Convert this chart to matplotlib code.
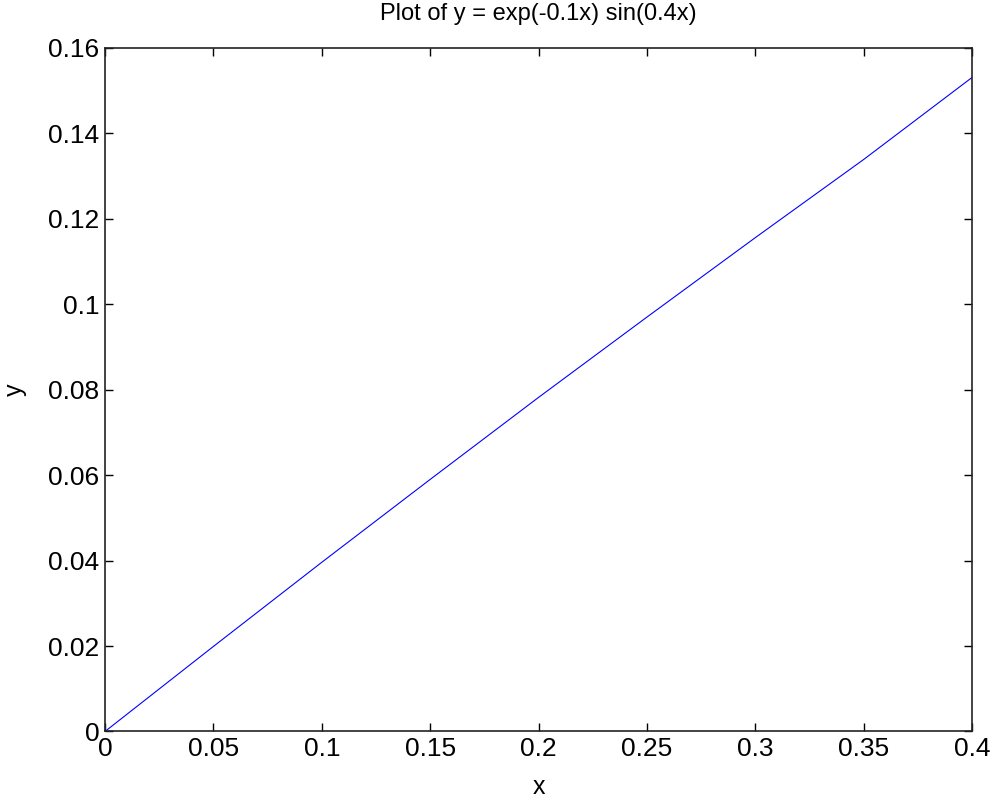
import matplotlib.pyplot as plt
import numpy as np

plt.rcParams['font.family'] = ['Liberation Sans', 'DejaVu Sans']

# values
x_vals = [0.0, 0.05, 0.1, 0.15, 0.2, 0.25, 0.3, 0.35, 0.4]
y_vals = [0.0, 0.0199, 0.0396, 0.0590, 0.0782, 0.0970, 0.1156, 0.1339, 0.1531]
x_ticks = [0, 0.05, 0.1, 0.15, 0.2, 0.25, 0.3, 0.35, 0.4]
x_labels = ["0", "0.05", "0.1", "0.15", "0.2", "0.25", "0.3", "0.35", "0.4"]
y_ticks = [0, 0.02, 0.04, 0.06, 0.08, 0.1, 0.12, 0.14, 0.16]
y_labels = ["0", "0.02", "0.04", "0.06", "0.08", "0.1", "0.12", "0.14", "0.16"]

fig = plt.figure(figsize=(9.95, 7.99), dpi=100)
ax = fig.add_axes([0.1055, 0.0845, 0.8715, 0.8555])
ax.plot(x_vals, y_vals, color="blue", lw=0.8)

ax.set_xlim(0, 0.4)
ax.set_ylim(0, 0.16)
ax.set_xticks(x_ticks)
ax.set_xticklabels(x_labels)
ax.set_yticks(y_ticks)
ax.set_yticklabels(y_labels)
ax.tick_params(direction="in", length=6, width=1, labelsize=19, pad=4,
               top=True, right=True)
for s in ax.spines.values():
    s.set_linewidth(1.2)
    s.set_color("#222222")

ax.set_xlabel("x", fontsize=18, labelpad=10)
ax.set_ylabel("y", fontsize=18, labelpad=15)
ax.set_title("Plot of y = exp(-0.1x) sin(0.4x)", fontsize=17, pad=20)

fig.savefig("out.png", dpi=100)
